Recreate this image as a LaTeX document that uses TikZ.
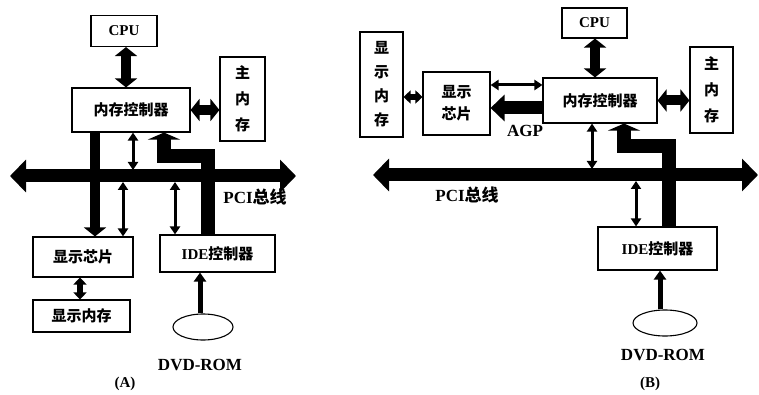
\documentclass[tikz,border=0pt]{standalone}
\usepackage{fontspec}
\setmainfont{Liberation Serif}
\newfontfamily\cjk{Noto Sans CJK SC}
\usetikzlibrary{arrows.meta,shapes.geometric}

\begin{document}
\begin{tikzpicture}[x=1pt, y=-1pt,
    caja/.style={draw, line width=1.1pt, inner sep=0pt, font=\fontsize{15}{18}\selectfont\bfseries},
    disco/.style={draw, line width=1.1pt, ellipse, inner sep=0pt},
    etiq/.style={font=\fontsize{17}{19}\selectfont\bfseries},
    gruesa/.style={line width=10pt, {Triangle[width=22pt,length=9pt]}-{Triangle[width=22pt,length=9pt]}},
    media/.style={line width=6pt, {Triangle[width=13pt,length=7pt]}-{Triangle[width=13pt,length=7pt]}},
    fina/.style={line width=3pt, {Triangle[width=10pt,length=8pt]}-{Triangle[width=10pt,length=8pt]}},
    bus/.style={line width=13pt, {Triangle[width=32pt,length=16pt]}-{Triangle[width=32pt,length=16pt]}},
    flecha/.style={line width=10pt, -{Triangle[width=22pt,length=9pt]}},
    agp/.style={line width=13pt, -{Triangle[width=26pt,length=14pt]}},
    lectura/.style={line width=5pt, -{Triangle[width=12pt,length=9pt]}},
    codo/.style={line width=14pt, line join=miter, -{Triangle[width=32pt,length=7pt]}}]
    \useasboundingbox (0,0) rectangle (759,395);
    % (A) bloques
    \node[caja, minimum width=66pt, minimum height=31pt] (cpuA) at (124,31) {CPU};
    \node[caja, minimum width=118pt, minimum height=44pt] (mcA) at (131,110) {\cjk 内存控制器};
    \node[caja, minimum width=45pt, minimum height=84pt, align=center,
          font=\fontsize{15}{26}\selectfont\bfseries\cjk] (mmA) at (242.5,99) {主\\内\\存};
    \node[caja, minimum width=100pt, minimum height=40pt] (dcA) at (83,257) {\cjk 显示芯片};
    \node[caja, minimum width=115pt, minimum height=37pt] (ideA) at (217.5,253.5) {IDE\cjk 控制器};
    \node[caja, minimum width=97pt, minimum height=32pt] (vmA) at (81.5,316) {\cjk 显示内存};
    \node[disco, minimum width=60pt, minimum height=26pt] (dvdA) at (203,327) {};
    \node[etiq] (rotdvdA) at (200,365) {DVD-ROM};
    \node[etiq] (rotpciA) at (255,197) {PCI\cjk 总线};
    \node[etiq, font=\fontsize{15}{17}\selectfont\bfseries] (rotA) at (125,384) {(A)};
    % (A) bus PCI
    \coordinate (busAizq) at (10,176);
    \coordinate (busAder) at (296,176);
    \coordinate (busAarr) at (10,170);
    \coordinate (busAab) at (10,182);
    \draw[bus] (busAizq) -- (busAder);
    % (A) conexiones
    \draw[gruesa] ([xshift=2pt]cpuA.south) -- ([xshift=2pt]cpuA.south |- mcA.north);
    \draw[gruesa] (mcA.east) -- (mcA.east -| mmA.west);
    \draw[flecha] ([xshift=-36pt]mcA.south) -- ([xshift=-36pt]mcA.south |- dcA.north);
    \draw[fina] ([xshift=2pt]mcA.south) -- ([xshift=2pt]mcA.south |- busAarr);
    \draw[fina] ([xshift=40pt]dcA.north) -- ([xshift=40pt]dcA.north |- busAab);
    \draw[fina] ([xshift=-42.5pt]ideA.north) -- ([xshift=-42.5pt]ideA.north |- busAab);
    \coordinate (codoA) at (164,156);
    \draw[codo] ([xshift=-10pt]ideA.north) |- (codoA) -- (codoA |- mcA.south);
    \draw[media] ([xshift=-3pt]dcA.south) -- ([xshift=-3pt]dcA.south |- vmA.north);
    \draw[lectura] ([xshift=-3pt]dvdA.north) -- ([xshift=-3pt]dvdA.north |- ideA.south);
    % (B) bloques
    \node[caja, minimum width=65pt, minimum height=30pt] (cpuB) at (594.5,23) {CPU};
    \node[caja, minimum width=114pt, minimum height=45pt] (mcB) at (600,100.5) {\cjk 内存控制器};
    \node[caja, minimum width=43pt, minimum height=86pt, align=center,
          font=\fontsize{15}{26}\selectfont\bfseries\cjk] (mmB) at (711.5,90) {主\\内\\存};
    \node[caja, minimum width=43pt, minimum height=105pt, align=center,
          font=\fontsize{15}{24}\selectfont\bfseries\cjk] (vmB) at (381.5,84.5) {显\\示\\内\\存};
    \node[caja, minimum width=67pt, minimum height=63pt, align=center,
          font=\fontsize{15}{22}\selectfont\bfseries\cjk] (dcB) at (456.5,103.5) {显示\\芯片};
    \node[caja, minimum width=119pt, minimum height=43pt] (ideB) at (657.5,248.5) {IDE\cjk 控制器};
    \node[disco, minimum width=64pt, minimum height=26pt] (dvdB) at (665,323) {};
    \node[etiq] (rotdvdB) at (663,355) {DVD-ROM};
    \node[etiq] (rotpciB) at (467,195) {PCI\cjk 总线};
    \node[etiq] (rotagp) at (525,131) {AGP};
    \node[etiq, font=\fontsize{15}{17}\selectfont\bfseries] (rotB) at (650,384) {(B)};
    % (B) bus PCI
    \coordinate (busBizq) at (373,175);
    \coordinate (busBder) at (758,175);
    \coordinate (busBarr) at (373,169);
    \coordinate (busBab) at (373,181);
    \draw[bus] (busBizq) -- (busBder);
    % (B) conexiones
    \draw[gruesa] ([xshift=0.5pt]cpuB.south) -- ([xshift=0.5pt]cpuB.south |- mcB.north);
    \draw[gruesa] (mcB.east) -- (mcB.east -| mmB.west);
    \draw[media] ([yshift=-12.5pt]vmB.east) -- ([yshift=-12.5pt]vmB.east -| dcB.west);
    \draw[fina] ([yshift=15.5pt]mcB.west) -- ([yshift=15.5pt]mcB.west -| dcB.east);
    \draw[agp] ([yshift=-7.5pt]mcB.west) -- ([yshift=-7.5pt]mcB.west -| dcB.east);
    \draw[fina] ([xshift=-8pt]mcB.south) -- ([xshift=-8pt]mcB.south |- busBarr);
    \coordinate (codoB) at (624,146);
    \draw[codo] ([xshift=11.5pt]ideB.north) |- (codoB) -- (codoB |- mcB.south);
    \draw[fina] ([xshift=-21.5pt]ideB.north) -- ([xshift=-21.5pt]ideB.north |- busBab);
    \draw[lectura] ([xshift=-5pt]dvdB.north) -- ([xshift=-5pt]dvdB.north |- ideB.south);
\end{tikzpicture}
\end{document}
